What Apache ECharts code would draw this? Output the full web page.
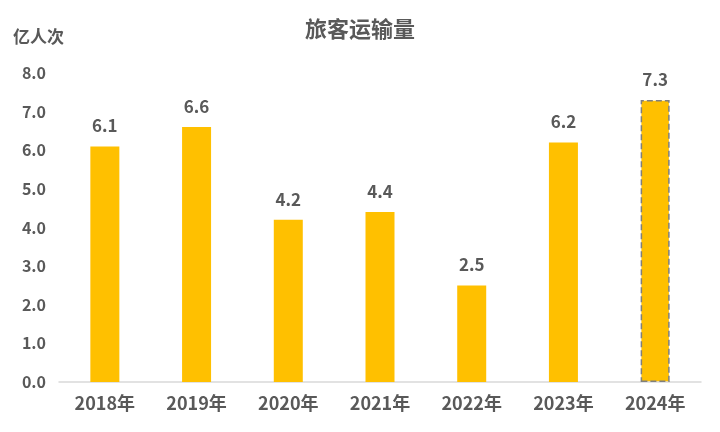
<!DOCTYPE html>
<html><head><meta charset="utf-8">
<script src="https://cdn.jsdelivr.net/npm/echarts@6/dist/echarts.min.js"></script>
<style>html,body{margin:0;padding:0;background:#fff}#c{width:720px;height:432px}</style>
</head><body><div id="c"></div>
<script>
const categories = ['2018年','2019年','2020年','2021年','2022年','2023年','2024年'];
const values = [6.1, 6.6, 4.2, 4.4, 2.5, 6.2, 7.3];
const yTicks = [0, 1, 2, 3, 4, 5, 6, 7, 8];
const title = '旅客运输量';
const unit = '亿人次';

const font = '"Noto Sans CJK SC", "Noto Sans", sans-serif';
const chart = echarts.init(document.getElementById('c'));
const data = values.map((v, i) => i === values.length - 1 ? {
  value: v,
  itemStyle: { color: '#FFC000', borderColor: '#7f7f7f', borderWidth: 1.5, borderType: 'dashed' }
} : { value: v });
chart.setOption({
  animation: false,
  title: { text: title, left: 'center', top: 13, textStyle: { fontFamily: font, fontSize: 22, fontWeight: 'bold', color: '#595959' } },
  grid: { left: 59, right: 19, top: 73, bottom: 50 },
  xAxis: {
    type: 'category', data: categories,
    axisLine: { lineStyle: { color: '#d9d9d9', width: 1.5 } },
    axisTick: { show: false },
    axisLabel: { fontFamily: font, fontSize: 18, fontWeight: 'bold', color: '#595959', margin: 12 }
  },
  yAxis: {
    type: 'value', min: yTicks[0], max: yTicks[yTicks.length - 1], interval: 1,
    name: unit, nameLocation: 'end', nameGap: 28,
    nameTextStyle: { fontFamily: font, fontSize: 17, fontWeight: 'bold', color: '#595959', align: 'left', padding: [0, 0, 0, -46] },
    splitLine: { show: false },
    axisLine: { show: false }, axisTick: { show: false },
    axisLabel: { fontFamily: font, fontSize: 16, fontWeight: 'bold', color: '#595959', margin: 13, formatter: v => v.toFixed(1) }
  },
  series: [{
    type: 'bar', data: data, barWidth: 29,
    itemStyle: { color: '#FFC000' },
    label: { show: true, position: 'top', distance: 12, fontFamily: font, fontSize: 17, fontWeight: 'bold', color: '#595959', formatter: p => p.value.toFixed(1) }
  }]
});
</script></body></html>
